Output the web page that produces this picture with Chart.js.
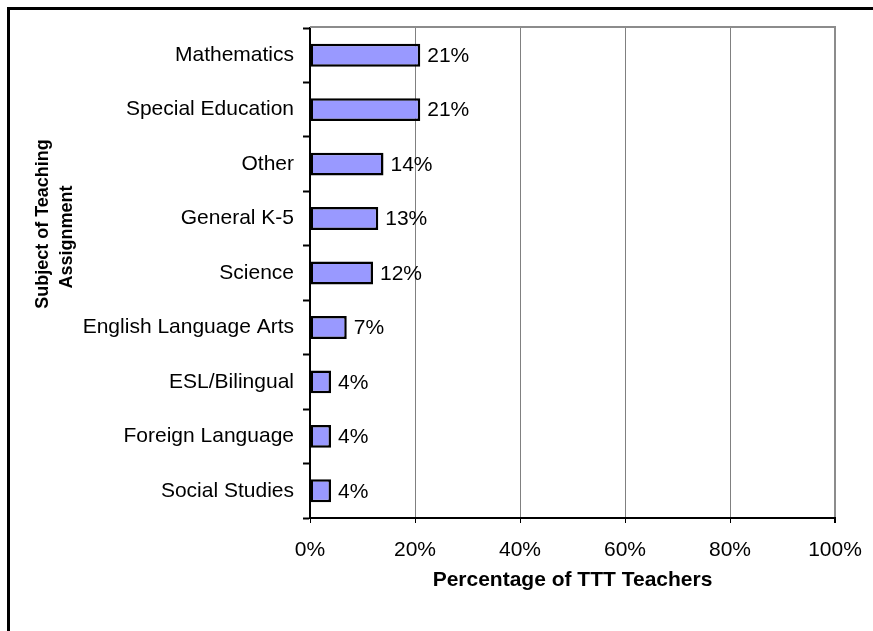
<!DOCTYPE html>
<html>
<head>
<meta charset="utf-8">
<script src="https://cdn.jsdelivr.net/npm/chart.js@4/dist/chart.umd.min.js"></script>
<style>
  html, body { margin: 0; padding: 0; background: #fff; }
  #wrap { width: 873px; height: 631px; position: relative; }
</style>
</head>
<body>
<div id="wrap"><canvas id="c" width="873" height="631"></canvas></div>
<script>
const categories = ["Mathematics", "Special Education", "Other", "General K-5", "Science",
  "English Language Arts", "ESL/Bilingual", "Foreign Language", "Social Studies"];
const percentages = [21, 21, 14, 13, 12, 7, 4, 4, 4];
const xTickValues = [0, 20, 40, 60, 80, 100];
const xAxisTitle = "Percentage of TTT Teachers";
const yAxisTitleLines = ["Subject of Teaching", "Assignment"];

const FONT = "'Liberation Sans', Arial, sans-serif";

const framePlugin = {
  id: 'frame',
  beforeDraw(chart) {
    const ctx = chart.ctx;
    ctx.save();
    ctx.fillStyle = '#fff';
    ctx.fillRect(0, 0, chart.width, chart.height);
    ctx.fillStyle = '#000';
    ctx.fillRect(7, 7, chart.width - 7, 3);
    ctx.fillRect(7, 7, 3, chart.height - 7);
    ctx.restore();
  },
  afterDraw(chart) {
    const ctx = chart.ctx;
    const a = chart.chartArea;
    ctx.save();
    // top plot border (gray)
    ctx.strokeStyle = '#8c8c8c';
    ctx.lineWidth = 2;
    ctx.beginPath();
    ctx.moveTo(a.left, a.top - 1);
    ctx.lineTo(a.right + 1, a.top - 1);
    ctx.stroke();
    // y axis title (two lines, rotated)
    ctx.fillStyle = '#000';
    ctx.font = "bold 18px " + FONT;
    ctx.textAlign = 'center';
    ctx.textBaseline = 'alphabetic';
    const pos = [[48, 224], [72, 237]];
    yAxisTitleLines.forEach((t, i) => {
      ctx.save();
      ctx.translate(pos[i][0], pos[i][1]);
      ctx.rotate(-Math.PI / 2);
      ctx.fillText(t, 0, 0);
      ctx.restore();
    });
    ctx.restore();
  }
};

const valueLabelPlugin = {
  id: 'valueLabels',
  afterDatasetsDraw(chart) {
    const ctx = chart.ctx;
    const meta = chart.getDatasetMeta(0);
    ctx.save();
    ctx.fillStyle = '#000';
    ctx.font = "21px " + FONT;
    ctx.textAlign = 'left';
    ctx.textBaseline = 'middle';
    meta.data.forEach((bar, i) => {
      ctx.fillText(percentages[i] + '%', bar.x + 7, bar.y + 1);
    });
    ctx.restore();
  }
};

new Chart(document.getElementById('c'), {
  type: 'bar',
  data: {
    labels: categories,
    datasets: [{
      data: percentages,
      backgroundColor: '#9999ff',
      borderColor: '#000',
      borderWidth: 2.5,
      borderSkipped: false,
      barPercentage: 0.42,
      categoryPercentage: 1.0
    }]
  },
  options: {
    indexAxis: 'y',
    responsive: false,
    animation: false,
    devicePixelRatio: 1,
    layout: { padding: { top: 28, right: 38, left: 0, bottom: 0 } },
    plugins: {
      legend: { display: false },
      tooltip: { enabled: false }
    },
    scales: {
      x: {
        type: 'linear',
        min: 0,
        max: 100,
        afterBuildTicks(scale) {
          scale.ticks = xTickValues.map(v => ({ value: v }));
        },
        afterFit(scale) {
          scale.height = 113;
          scale.paddingRight = 0;
          scale.paddingLeft = 0;
        },
        ticks: {
          color: '#000',
          font: { family: FONT, size: 21 },
          padding: 15,
          maxRotation: 0,
          callback: v => v + '%'
        },
        grid: {
          color: ctx => ctx.tick && ctx.tick.value === 100 ? '#8c8c8c' : '#808080',
          lineWidth: ctx => ctx.tick && ctx.tick.value === 100 ? 2 : 1,
          tickColor: '#000',
          tickLength: 5,
          drawTicks: true
        },
        border: { color: '#000', width: 2 },
        title: {
          display: true,
          text: xAxisTitle,
          color: '#000',
          font: { family: FONT, size: 21, weight: 'bold' },
          padding: { top: 0, bottom: 38 }
        }
      },
      y: {
        afterFit(scale) { scale.width = 310; },
        ticks: {
          color: '#000',
          font: { family: FONT, size: 21 },
          padding: 9
        },
        grid: {
          offset: true,
          drawOnChartArea: false,
          drawTicks: true,
          tickLength: 7,
          tickColor: '#000',
          tickWidth: 2
        },
        border: { color: '#000', width: 2 }
      }
    }
  },
  plugins: [framePlugin, valueLabelPlugin]
});
</script>
</body>
</html>
